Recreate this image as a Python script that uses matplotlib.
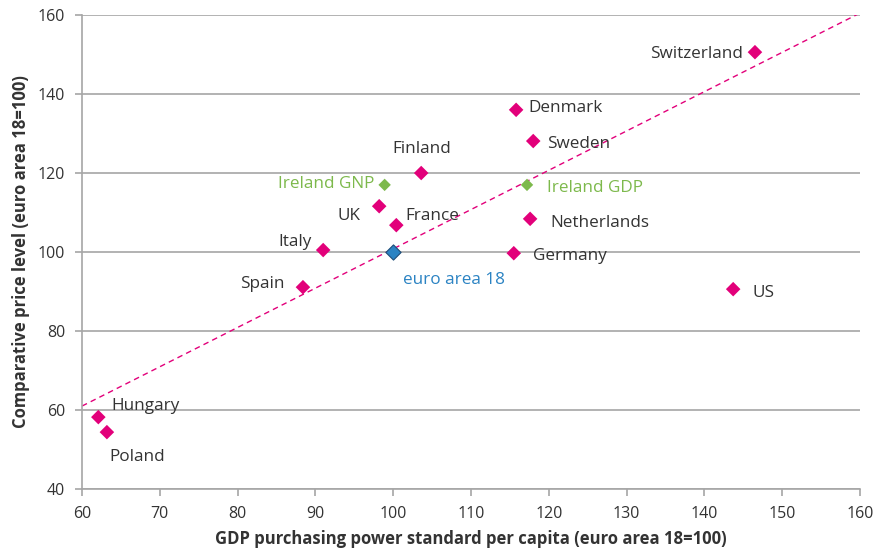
import matplotlib
matplotlib.use("Agg")
import matplotlib.pyplot as plt

plt.rcParams['font.family'] = ['Open Sans', 'DejaVu Sans']

countries = ["Switzerland", "Denmark", "Sweden", "Finland", "UK", "France",
             "Netherlands", "Italy", "Germany", "Spain", "US", "Hungary", "Poland"]
gdp_pps = [146.5, 115.8, 118.0, 103.6, 98.2, 100.4, 117.6, 91.0, 115.5, 88.4, 143.7, 62.1, 63.2]
price_level = [150.6, 136.0, 128.1, 120.0, 111.6, 106.8, 108.4, 100.5, 99.7, 91.1, 90.6, 58.2, 54.4]

ireland_labels = ["Ireland GNP", "Ireland GDP"]
ireland_x = [98.9, 117.2]
ireland_y = [117.0, 117.0]

ea_label = "euro area 18"
ea_x = [100.0]
ea_y = [100.0]

trend_x = [60, 160]
trend_y = [61.0, 160.5]

xticks = [60, 70, 80, 90, 100, 110, 120, 130, 140, 150, 160]
yticks = [40, 60, 80, 100, 120, 140, 160]

# label offsets in pixels (dx, dy) and alignment
offsets = {
    "Switzerland": (-12, -2, 'right'),
    "Denmark": (12, 2, 'left'),
    "Sweden": (14, -3, 'left'),
    "Finland": (1, 24, 'center'),
    "UK": (-19, -10, 'right'),
    "France": (9, 9, 'left'),
    "Netherlands": (20, -4, 'left'),
    "Italy": (-11, 8, 'right'),
    "Germany": (19, -3, 'left'),
    "Spain": (-18, 3, 'right'),
    "US": (19, -4, 'left'),
    "Hungary": (13, 11, 'left'),
    "Poland": (2, -25, 'left'),
    "Ireland GNP": (-10, 1, 'right'),
    "Ireland GDP": (20, -3, 'left'),
    "euro area 18": (10, -28, 'left'),
}

magenta = "#E2007A"
green = "#7DB94C"
blue = "#2B83C3"
textc = "#333333"
gridc = "#A6A6A6"

fig = plt.figure(figsize=(8.77, 5.59), dpi=100)
ax = fig.add_axes([0.0935, 0.1252, 0.8871, 0.8479])

ax.plot(trend_x, trend_y, linestyle=(0, (4, 3)), color=magenta, linewidth=1.0, zorder=2)

ax.scatter(gdp_pps, price_level, marker='D', s=55, color=magenta, edgecolors='none', zorder=3)
ax.scatter(ireland_x, ireland_y, marker='D', s=40, color=green, edgecolors='none', zorder=3)
ax.scatter(ea_x, ea_y, marker='D', s=60, color=blue, edgecolors='#1F4E79', linewidths=0.8, zorder=3)

def lab(name, x, y, color):
    dx, dy, ha = offsets[name]
    ax.annotate(name, (x, y), xytext=(dx, dy), textcoords='offset pixels',
                ha=ha, va='center', fontsize=12.3, color=color)

for n, x, y in zip(countries, gdp_pps, price_level):
    lab(n, x, y, textc)
for n, x, y in zip(ireland_labels, ireland_x, ireland_y):
    lab(n, x, y, green)
lab(ea_label, ea_x[0], ea_y[0], blue)

ax.set_xlim(60, 160)
ax.set_ylim(40, 160)
ax.set_xticks(xticks)
ax.set_yticks(yticks)
ax.yaxis.grid(True, color=gridc, linewidth=1.2)
ax.set_axisbelow(True)
for s in ['top', 'right']:
    ax.spines[s].set_visible(False)
for s in ['left', 'bottom']:
    ax.spines[s].set_color(gridc)
    ax.spines[s].set_linewidth(1.2)
ax.tick_params(axis='both', colors=gridc, length=5, width=1.2, labelsize=11.5,
               labelcolor=textc, pad=7)

ax.set_xlabel("GDP purchasing power standard per capita (euro area 18=100)",
              fontsize=12, fontweight='bold', color=textc, labelpad=6)
ax.set_ylabel("Comparative price level (euro area 18=100)",
              fontsize=12, fontweight='bold', color=textc, labelpad=6)

fig.savefig("out.png", dpi=100)
